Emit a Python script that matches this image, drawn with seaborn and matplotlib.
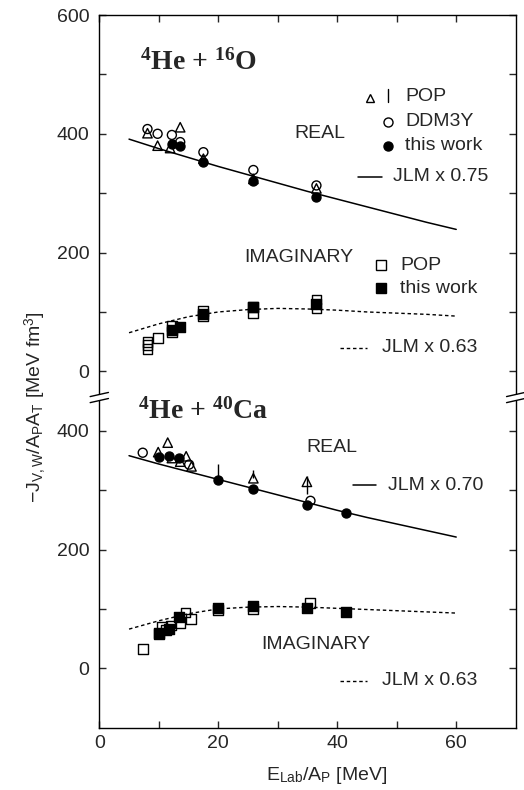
import numpy as np
import pandas as pd
import matplotlib
matplotlib.use("Agg")
import matplotlib.pyplot as plt
import seaborn as sns

# ---------------- data ----------------
# 4He + 16O (upper block), real part
o_pop_re_x = [8.1, 9.8, 11.9, 13.6, 17.5, 25.9, 36.5]
o_pop_re_y = [401, 380, 376, 411, 358, 324, 308]
o_ddm_re_x = [8.1, 9.8, 12.2, 13.6, 17.5, 25.9, 36.5]
o_ddm_re_y = [408, 400, 398, 386, 369, 339, 313]
o_tw_re_x = [12.2, 13.6, 17.5, 25.9, 36.5]
o_tw_re_y = [383, 380, 353, 321, 293]
# imaginary part
o_pop_im_x = [8.1, 8.1, 8.1, 9.8, 12.2, 12.2, 17.5, 17.5, 25.9, 25.9, 36.5, 36.5]
o_pop_im_y = [50, 44, 38, 56, 66, 77, 93, 102, 98, 108, 106, 121]
o_tw_im_x = [12.2, 13.6, 17.5, 25.9, 36.5]
o_tw_im_y = [70, 75, 96, 108, 113]
# JLM curves
jlm_x = [5, 10, 15, 20, 25, 30, 35, 40, 45, 50, 55, 60]
o_jlm_re = [391, 375, 360, 345, 331, 317, 303, 290, 277, 264, 251, 239]
o_jlm_im = [65, 80, 92, 100, 104, 106, 105, 103, 100, 98, 96, 93]

# 4He + 40Ca (lower block), real part
c_pop_re_x = [9.9, 11.5, 12.2, 13.6, 14.6, 15.5, 25.9, 34.9]
c_pop_re_y = [364, 380, 354, 348, 357, 340, 320, 314]
c_pop_bar_x = [20.0, 25.9, 34.9]
c_pop_bar_lo = [317, 320, 294]
c_pop_bar_hi = [344, 334, 324]
c_ddm_re_x = [7.3, 15.1, 35.5]
c_ddm_re_y = [363, 343, 282]
c_tw_re_x = [10.0, 11.7, 13.4, 20.0, 25.9, 35.0, 41.5]
c_tw_re_y = [355, 358, 354, 317, 302, 275, 261]
# imaginary part
c_pop_im_x = [7.3, 10.0, 10.5, 11.2, 12.0, 13.6, 14.5, 15.4, 20.0, 25.9, 35.4]
c_pop_im_y = [32, 60, 70, 65, 72, 76, 94, 83, 98, 100, 110]
c_tw_im_x = [10.0, 11.7, 13.4, 20.0, 25.9, 35.0, 41.5]
c_tw_im_y = [58, 67, 87, 101, 105, 101, 95]
c_jlm_re = [358, 344, 331, 318, 305, 292, 279, 266, 254, 243, 232, 221]
c_jlm_im = [66, 80, 92, 100, 103, 104, 103, 101, 99, 97, 95, 93]

y_tick_labels = ["0", "200", "400", "0", "200", "400", "600"]
x_ticks = [0, 20, 40, 60]

OFFSET = 500  # vertical shift of the upper (16O) block on the broken axis

# ---------------- style ----------------
sns.set_style("ticks")
FONT = ["Liberation Sans", "DejaVu Sans"]
plt.rcParams["font.family"] = FONT
plt.rcParams["mathtext.fontset"] = "custom"
plt.rcParams["mathtext.rm"] = "Liberation Serif:bold"
plt.rcParams["mathtext.sf"] = "Liberation Sans"
plt.rcParams["mathtext.it"] = "Liberation Serif:italic:bold"
plt.rcParams["mathtext.bf"] = "Liberation Serif:bold"
FS = 14

fig = plt.figure(figsize=(5.24, 7.90), dpi=100)
ax = fig.add_axes([99.3 / 524, 1 - 727.7 / 790, 416.4 / 524, 712.7 / 790])

MS_C = 42
MS_S = 50
MS_T = 46
LW_M = 1.0


def open_pts(x, y, marker, size, off=0):
    sns.scatterplot(x=np.asarray(x), y=np.asarray(y) + off, marker=marker, s=size,
                    facecolor="none", edgecolor="black", linewidth=LW_M, ax=ax,
                    zorder=3, legend=False)


def filled_pts(x, y, marker, size, off=0):
    sns.scatterplot(x=np.asarray(x), y=np.asarray(y) + off, marker=marker, s=size,
                    color="black", edgecolor="black", linewidth=LW_M, ax=ax,
                    zorder=4, legend=False)


# curves
sns.lineplot(x=jlm_x, y=np.asarray(o_jlm_re) + OFFSET, color="black", lw=1.1, ax=ax)
sns.lineplot(x=jlm_x, y=np.asarray(o_jlm_im) + OFFSET, color="black", lw=1.0,
             linestyle=(0, (2.5, 2.0)), ax=ax)
sns.lineplot(x=jlm_x, y=c_jlm_re, color="black", lw=1.1, ax=ax)
sns.lineplot(x=jlm_x, y=c_jlm_im, color="black", lw=1.0,
             linestyle=(0, (2.5, 2.0)), ax=ax)

# upper block
open_pts(o_pop_re_x, o_pop_re_y, "^", MS_T, OFFSET)
open_pts(o_ddm_re_x, o_ddm_re_y, "o", MS_C, OFFSET)
filled_pts(o_tw_re_x, o_tw_re_y, "o", MS_C, OFFSET)
open_pts(o_pop_im_x, o_pop_im_y, "s", MS_S, OFFSET)
filled_pts(o_tw_im_x, o_tw_im_y, "s", MS_S, OFFSET)

# lower block
ax.vlines(c_pop_bar_x, c_pop_bar_lo, c_pop_bar_hi, color="black", lw=1.0, zorder=3)
open_pts(c_pop_re_x, c_pop_re_y, "^", MS_T)
open_pts(c_ddm_re_x, c_ddm_re_y, "o", MS_C)
filled_pts(c_tw_re_x, c_tw_re_y, "o", MS_C)
open_pts(c_pop_im_x, c_pop_im_y, "s", MS_S)
filled_pts(c_tw_im_x, c_tw_im_y, "s", MS_S)

# ---------------- axes ----------------
ax.set_xlim(0, 70)
ax.set_ylim(-100, 1100)
ax.set_xticks(x_ticks)
ax.set_xticks([10, 30, 50], minor=True)
ax.set_yticks([0, 200, 400, 500, 700, 900, 1100])
ax.set_yticklabels(y_tick_labels)
ax.set_yticks([100, 300, 600, 800, 1000], minor=True)
ax.tick_params(which="both", direction="in", top=True, right=True, length=5,
               width=1.0, labelsize=FS)
ax.tick_params(axis="x", pad=5)
ax.tick_params(axis="y", pad=7)
for sp in ax.spines.values():
    sp.set_linewidth(1.0)
    sp.set_color("black")

ax.set_xlabel("E$_{\\mathsf{Lab}}$/A$_{\\mathsf{P}}$ [MeV]", fontsize=FS)
ax.set_ylabel("\u2212J$_{\\mathsf{V,W}}$/A$_{\\mathsf{P}}$A$_{\\mathsf{T}}$ [MeV fm$^{\\mathsf{3}}$]",
              fontsize=FS)
ax.xaxis.set_label_coords(0.546, -0.052)
ax.yaxis.set_label_coords(-0.123, 0.45)

# break marks on both side spines
yb1, yb2 = 0.459, 0.4675
dx, dy = 0.022, 0.0029
for xs in (0.0, 1.0):
    ax.add_patch(plt.Rectangle((xs - 0.006, yb1), 0.012, yb2 - yb1,
                               transform=ax.transAxes, facecolor="white",
                               edgecolor="none", clip_on=False, zorder=5))
    for yb in (yb1, yb2):
        ax.plot([xs - dx, xs + dx], [yb - dy, yb + dy], color="black", lw=1.0,
                transform=ax.transAxes, clip_on=False, zorder=6)

T = ax.transAxes
# titles
ax.text(0.097, 0.923, r"$^{4}$He + $^{16}$O", transform=T, fontsize=20,
        family="Liberation Serif", weight="bold", ha="left", va="baseline")
ax.text(0.093, 0.434, r"$^{4}$He + $^{40}$Ca", transform=T, fontsize=20,
        family="Liberation Serif", weight="bold", ha="left", va="baseline")

# upper annotations / legend
ax.text(0.530, 0.834, "REAL", transform=T, fontsize=FS, ha="center", va="center")
ax.plot([0.650], [0.884], marker="^", ms=6, mfc="none", mec="black", mew=LW_M,
        transform=T, clip_on=False)
ax.plot([0.6926, 0.6926], [0.8784, 0.8958], color="black", lw=1.0, transform=T)
ax.text(0.734, 0.885, "POP", transform=T, fontsize=FS, ha="left", va="center")
ax.plot([0.6926], [0.850], marker="o", ms=6.5, mfc="none", mec="black", mew=LW_M,
        transform=T)
ax.text(0.734, 0.850, "DDM3Y", transform=T, fontsize=FS, ha="left", va="center")
ax.plot([0.6926], [0.8166], marker="o", ms=6.5, mfc="black", mec="black", mew=LW_M,
        transform=T)
ax.text(0.734, 0.8166, "this work", transform=T, fontsize=FS, ha="left", va="center")
ax.plot([0.622, 0.678], [0.773, 0.773], color="black", lw=1.1, transform=T)
ax.text(0.706, 0.773, "JLM x 0.75", transform=T, fontsize=FS, ha="left", va="center")

ax.text(0.478, 0.6595, "IMAGINARY", transform=T, fontsize=FS, ha="center", va="center")
ax.plot([0.6765], [0.649], marker="s", ms=6.5, mfc="none", mec="black", mew=LW_M,
        transform=T)
ax.text(0.722, 0.649, "POP", transform=T, fontsize=FS, ha="left", va="center")
ax.plot([0.6765], [0.6165], marker="s", ms=6.5, mfc="black", mec="black", mew=LW_M,
        transform=T)
ax.text(0.722, 0.6165, "this work", transform=T, fontsize=FS, ha="left", va="center")
ax.plot([0.578, 0.642], [0.5328, 0.5328], color="black", lw=1.0,
        linestyle=(0, (2.5, 2.0)), transform=T)
ax.text(0.678, 0.5328, "JLM x 0.63", transform=T, fontsize=FS, ha="left", va="center")

# lower annotations
ax.text(0.558, 0.3925, "REAL", transform=T, fontsize=FS, ha="center", va="center")
ax.plot([0.6086, 0.6645], [0.3405, 0.3405], color="black", lw=1.1, transform=T)
ax.text(0.6926, 0.3405, "JLM x 0.70", transform=T, fontsize=FS, ha="left", va="center")
ax.text(0.519, 0.1174, "IMAGINARY", transform=T, fontsize=FS, ha="center", va="center")
ax.plot([0.578, 0.642], [0.066, 0.066], color="black", lw=1.0,
        linestyle=(0, (2.5, 2.0)), transform=T)
ax.text(0.678, 0.066, "JLM x 0.63", transform=T, fontsize=FS, ha="left", va="center")

fig.savefig("out.png", dpi=100)
